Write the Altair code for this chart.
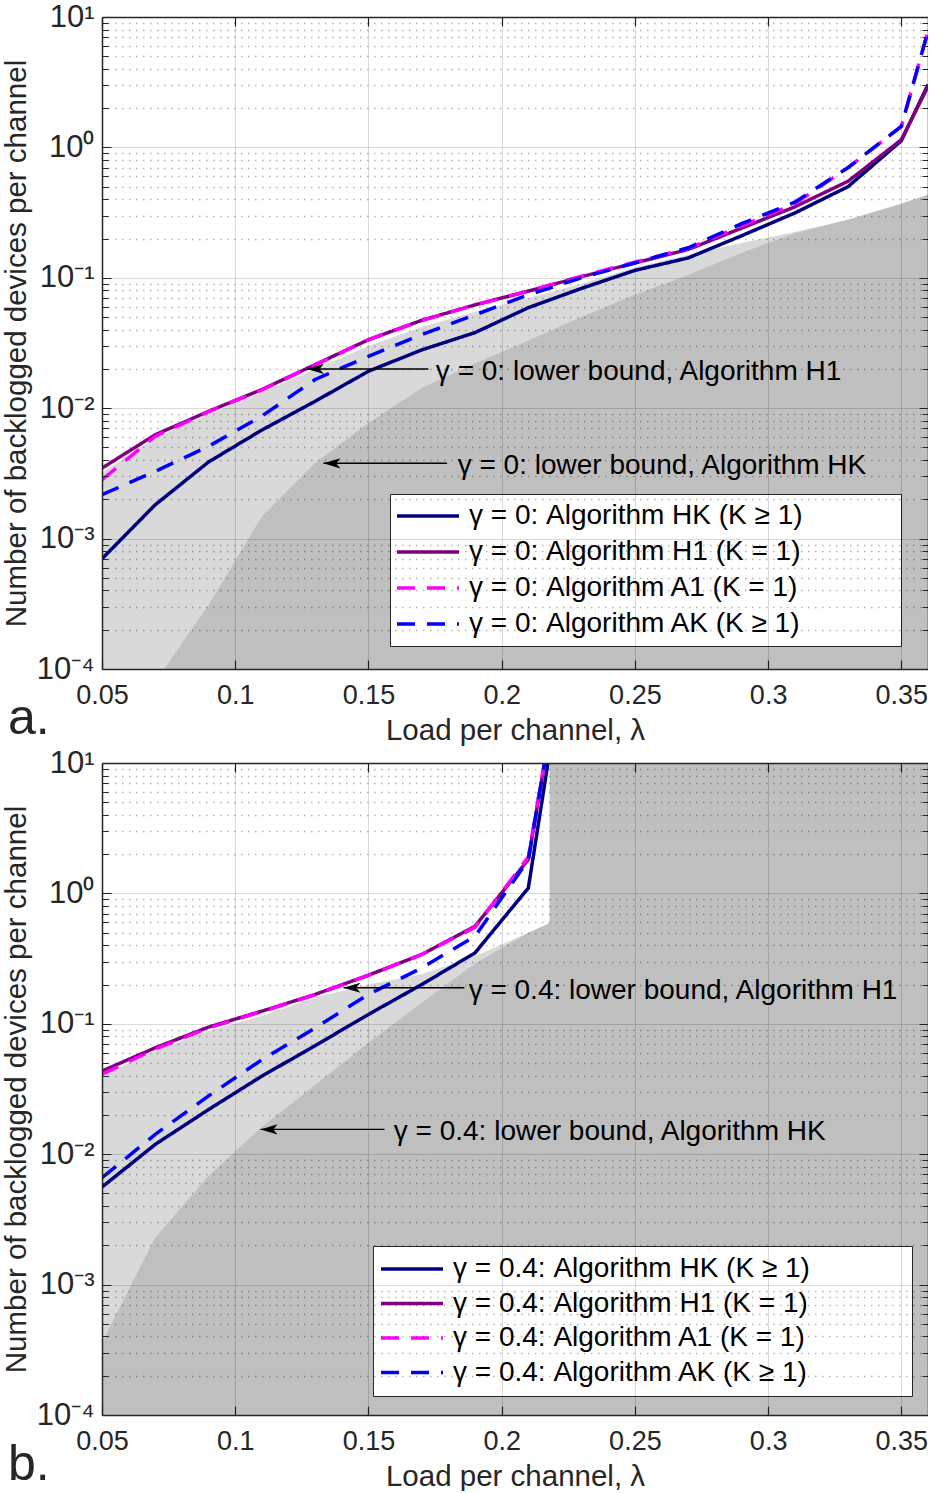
import altair as alt
import pandas as pd

FONT = "Liberation Sans"
INK = "#262626"
W, H = 826, 652
X_DOMAIN = [0.05, 0.36]
Y_DOMAIN = [1e-4, 10]

# ---------------- axis ticks ----------------
x_ticks = [0.05, 0.1, 0.15, 0.2, 0.25, 0.3, 0.35]
y_decades = [0.0001, 0.001, 0.01, 0.1, 1, 10]
y_decade_text = ["10⁻⁴", "10⁻³", "10⁻²", "10⁻¹", "10⁰", "10¹"]
y_minor_mult = [2, 3, 4, 5, 6, 7, 8, 9]
y_minor = [float(f"{m}e{e}") for e in range(-4, 1) for m in y_minor_mult]
y_ticks = y_decades + y_minor

# ---------------- panel a (gamma = 0) ----------------
lam_a = [0.05, 0.07, 0.09, 0.11, 0.13, 0.15, 0.17, 0.19, 0.21, 0.23, 0.25, 0.27, 0.29, 0.31, 0.33, 0.35, 0.36]
hk_a = [7.0e-4, 1.82e-3, 3.87e-3, 6.8e-3, 1.13e-2, 1.92e-2, 2.8e-2, 3.8e-2, 5.9e-2, 8.3e-2, 0.114, 0.142, 0.21, 0.314, 0.50, 1.125, 3.03]
h1_a = [3.47e-3, 6.26e-3, 9.46e-3, 1.39e-2, 2.16e-2, 3.35e-2, 4.72e-2, 6.2e-2, 7.9e-2, 0.102, 0.13, 0.165, 0.24, 0.35, 0.55, 1.145, 2.94]
a1_a = [2.83e-3, 6.1e-3, 9.4e-3, 1.38e-2, 2.15e-2, 3.35e-2, 4.7e-2, 6.2e-2, 7.9e-2, 0.103, 0.132, 0.168, 0.25, 0.37, 0.70, 1.45, 7.8]
ak_a = [2.17e-3, 3.28e-3, 5.1e-3, 8.7e-3, 1.66e-2, 2.5e-2, 3.67e-2, 5.2e-2, 7.4e-2, 0.100, 0.13, 0.17, 0.26, 0.38, 0.70, 1.45, 7.8]
lb_lam_a = lam_a
lb_h1_a = [3.2e-3, 5.9e-3, 9.0e-3, 1.32e-2, 2.0e-2, 3.0e-2, 4.2e-2, 5.5e-2, 7.0e-2, 0.09, 0.12, 0.15, 0.185, 0.225, 0.279, 0.37, 0.433]
lb_hk_a = [1e-7, 8e-5, 3.1e-4, 1.48e-3, 3.8e-3, 7.7e-3, 1.43e-2, 2.2e-2, 3.3e-2, 5.0e-2, 7.4e-2, 0.105, 0.155, 0.22, 0.279, 0.37, 0.433]
ann_a_tip = [0.1269, 0.1331]
ann_a_tail = [0.1725, 0.1795]
ann_a_y = [0.020, 0.00378]
ann_a_textx = [0.1753, 0.1835]
ann_a_text = ["γ = 0: lower bound, Algorithm H1", "γ = 0: lower bound, Algorithm HK"]

# ---------------- panel b (gamma = 0.4) ----------------
lam_b = [0.05, 0.07, 0.09, 0.11, 0.13, 0.15, 0.17, 0.19, 0.21, 0.22]
hk_b = [5.6e-3, 1.19e-2, 2.2e-2, 3.97e-2, 6.8e-2, 0.118, 0.2, 0.35, 1.1, 22]
h1_b = [4.34e-2, 6.55e-2, 9.44e-2, 0.125, 0.168, 0.236, 0.34, 0.56, 1.82, 30]
a1_b = [4.1e-2, 6.4e-2, 9.3e-2, 0.124, 0.167, 0.235, 0.34, 0.55, 1.9, 30]
ak_b = [6.6e-3, 1.42e-2, 2.8e-2, 5.3e-2, 9.3e-2, 0.168, 0.268, 0.47, 1.8, 30]
lb_lam_b = [0.05, 0.07, 0.09, 0.11, 0.13, 0.15, 0.17, 0.19, 0.21, 0.218, 0.2181, 0.36]
lb_h1_b = [0.040, 0.062, 0.088, 0.115, 0.16, 0.20, 0.24, 0.33, 0.50, 0.59, 1000, 1000]
lb_hk_b = [3.6e-4, 2.3e-3, 6.8e-3, 1.62e-2, 3.4e-2, 7.15e-2, 0.145, 0.29, 0.50, 0.59, 1000, 1000]
ann_b_tip = [0.1406, 0.1095]
ann_b_tail = [0.186, 0.156]
ann_b_y = [0.189, 0.0155]
ann_b_textx = [0.1876, 0.1595]
ann_b_text = ["γ = 0.4: lower bound, Algorithm H1", "γ = 0.4: lower bound, Algorithm HK"]

series_tail = ["Algorithm HK (K ≥ 1)", "Algorithm H1 (K = 1)", "Algorithm A1 (K = 1)", "Algorithm AK (K ≥ 1)"]
series_colors = ["#000080", "#800080", "#ff00ff", "#0000ff"]
series_dashes = [[1, 0], [1, 0], [18, 12], [18, 12]]

LIGHT = "#d9d9d9"
DARK = "#bfbfbf"

DEC_TEST = "indexof([0.0001, 0.001, 0.01, 0.1, 1, 10], datum.value) >= 0"
label_expr = " : ".join(
    f"datum.value == {v} ? '{t}'" for v, t in zip(y_decades, y_decade_text)
) + " : ''"

X_SCALE = alt.Scale(domain=X_DOMAIN, nice=False, zero=False)
Y_SCALE = alt.Scale(type="log", domain=Y_DOMAIN, nice=False)


def axes():
    y_left = alt.Axis(
        orient="left", values=y_ticks, labelExpr=label_expr, labelFont=FONT,
        labelFontSize=31, labelColor=INK, labelPadding=8, labelOverlap=False,
        labelFlush=False, ticks=False, domain=True, domainColor=INK, domainWidth=1.5,
        grid=True, gridColor=INK, gridOpacity=1, gridWidth=1.2,
        gridDash={"condition": {"test": DEC_TEST, "value": [9, W - 18]}, "value": [6, W - 12]},
        title="Number of backlogged devices per channel", titleFont=FONT,
        titleFontSize=29.5, titleFontWeight="normal", titleColor=INK, titlePadding=5,
        zindex=1,
    )
    y_right = alt.Axis(
        orient="right", values=y_ticks, labels=False, ticks=False, domain=True,
        domainColor=INK, domainWidth=1.5, grid=True, gridColor="black",
        gridOpacity={"condition": {"test": DEC_TEST, "value": 0.15}, "value": 0.3},
        gridDash={"condition": {"test": DEC_TEST, "value": [1, 0]}, "value": [1.5, 5.5]},
        gridWidth={"condition": {"test": DEC_TEST, "value": 1}, "value": 1.4},
        title=None, zindex=1,
    )
    x_bottom = alt.Axis(
        orient="bottom", values=x_ticks, format=".2~f", labelFont=FONT,
        labelFontSize=27, labelColor=INK, labelPadding=13, labelOverlap=False,
        labelFlush=False, ticks=False, domain=True, domainColor=INK, domainWidth=1.5,
        grid=True, gridColor=INK, gridOpacity=1, gridWidth=1.2, gridDash=[9, H - 18],
        title="Load per channel,  λ", titleFont=FONT, titleFontSize=29.5,
        titleFontWeight="normal", titleColor=INK, titlePadding=8, zindex=1,
    )
    x_top = alt.Axis(
        orient="top", values=x_ticks, labels=False, ticks=False, domain=True,
        domainColor=INK, domainWidth=1.5, grid=True, gridColor="black",
        gridOpacity=0.15, gridWidth=1, title=None, zindex=1,
    )
    return y_left, y_right, x_bottom, x_top


def panel(gamma, lam, vals, lb_lam, lb_h1, lb_hk, tip, tail, ay, tx, texts,
          letter, leg_x, leg_y, leg_pad, leg_rowpad, leg_titlepad):
    y_left, y_right, x_bottom, x_top = axes()
    names = [f"γ = {gamma}: {s}" for s in series_tail]
    rows = []
    for name, ser in zip(names, vals):
        for l, v in zip(lam, ser):
            rows.append({"lam": l, "v": v, "series": name})
    lines_df = pd.DataFrame(rows)
    lb1 = pd.DataFrame({"lam": lb_lam, "v": lb_h1})
    lb2 = pd.DataFrame({"lam": lb_lam, "v": lb_hk})
    ann = pd.DataFrame({"tip": tip, "tail": tail, "y": ay, "tx": tx, "text": texts})
    lab = pd.DataFrame({"t": [letter]})

    light = alt.Chart(lb1).mark_area(color=LIGHT, clip=True).encode(
        x=alt.X("lam:Q", scale=X_SCALE, axis=x_bottom),
        y=alt.Y("v:Q", scale=Y_SCALE, axis=y_left),
        y2=alt.datum(1e-4),
    )
    dark = alt.Chart(lb2).mark_area(color=DARK, clip=True).encode(
        x=alt.X("lam:Q", scale=X_SCALE, axis=x_top),
        y=alt.Y("v:Q", scale=Y_SCALE, axis=y_right),
        y2=alt.datum(1e-4),
    )
    leg = alt.Legend(
        title=" ", titleOrient="right", titlePadding=leg_titlepad, titleFontSize=28,
        orient="none", legendX=leg_x, legendY=leg_y, fillColor="white",
        strokeColor=INK, padding=leg_pad, symbolType="M-3,0L3,0", symbolSize=427,
        symbolStrokeWidth=3.5, symbolOffset=16, labelFont=FONT, labelFontSize=28,
        labelColor="black", labelOffset=27, rowPadding=leg_rowpad, labelLimit=800,
    )
    lines = alt.Chart(lines_df).mark_line(strokeWidth=3.5, clip=True).encode(
        x=alt.X("lam:Q", scale=X_SCALE, axis=None),
        y=alt.Y("v:Q", scale=Y_SCALE, axis=None),
        color=alt.Color("series:N", scale=alt.Scale(domain=names, range=series_colors), legend=leg),
        strokeDash=alt.StrokeDash("series:N", scale=alt.Scale(domain=names, range=series_dashes), legend=leg),
    )
    arrows = alt.Chart(ann).mark_rule(color="black", strokeWidth=1.4).encode(
        x=alt.X("tip:Q", scale=X_SCALE, axis=None),
        x2="tail:Q",
        y=alt.Y("y:Q", scale=Y_SCALE, axis=None),
    )
    heads = alt.Chart(ann).mark_point(
        shape="M0,0L1,-0.3L0.75,0L1,0.3Z", filled=True, color="black", opacity=1, size=1156
    ).encode(
        x=alt.X("tip:Q", scale=X_SCALE, axis=None),
        y=alt.Y("y:Q", scale=Y_SCALE, axis=None),
    )
    words = alt.Chart(ann).mark_text(
        align="left", baseline="middle", font=FONT, fontSize=28, color="black", dy=3
    ).encode(
        x=alt.X("tx:Q", scale=X_SCALE, axis=None),
        y=alt.Y("y:Q", scale=Y_SCALE, axis=None),
        text="text:N",
    )
    letter_mark = alt.Chart(lab).mark_text(
        align="left", baseline="alphabetic", font=FONT, fontSize=50, color=INK
    ).encode(x=alt.value(-94), y=alt.value(717), text="t:N")

    return alt.layer(light, dark, lines, arrows, heads, words, letter_mark).resolve_axis(
        x="independent", y="independent"
    ).properties(width=W, height=H)


pa = panel("0", lam_a, [hk_a, h1_a, a1_a, ak_a], lb_lam_a, lb_h1_a, lb_hk_a,
           ann_a_tip, ann_a_tail, ann_a_y, ann_a_textx, ann_a_text, "a.",
           288, 477, 8, 8, 90)
pb = panel("0.4", lam_b, [hk_b, h1_b, a1_b, ak_b], lb_lam_b, lb_h1_b, lb_hk_b,
           ann_b_tip, ann_b_tail, ann_b_y, ann_b_textx, ann_b_text, "b.",
           271, 483, 9, 6.5, 93)

chart = alt.vconcat(pa, pb, spacing=94, bounds="flush").resolve_scale(
    x="independent", y="independent", color="independent", strokeDash="independent"
).properties(
    padding={"left": 1, "top": 1, "right": 0, "bottom": 0}
).configure_view(stroke=None)

chart.save("out.html", embed_options={"renderer": "svg", "actions": False})
